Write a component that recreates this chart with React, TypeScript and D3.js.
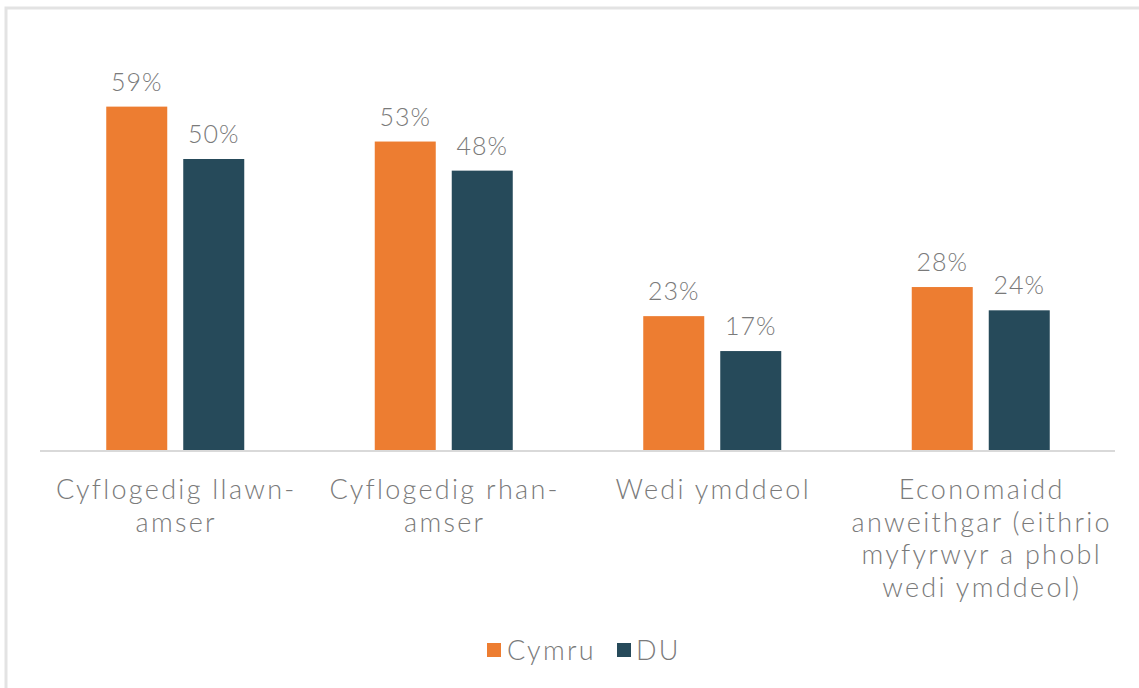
import { useEffect, useRef } from "react";
import * as d3 from "d3";

const categories = [
  "Cyflogedig llawn-amser",
  "Cyflogedig rhan-amser",
  "Wedi ymddeol",
  "Economaidd anweithgar (eithrio myfyrwyr a phobl wedi ymddeol)",
];
// label lines as they wrap in the picture
const categoryLines = [
  ["Cyflogedig llawn-", "amser"],
  ["Cyflogedig rhan-", "amser"],
  ["Wedi ymddeol"],
  ["Economaidd", "anweithgar (eithrio", "myfyrwyr a phobl", "wedi ymddeol)"],
];
const seriesNames = ["Cymru", "DU"];
const cymru = [59, 53, 23, 28];
const du = [50, 48, 17, 24];
const colors = ["#ED7D31", "#264A5A"];

const W = 1139;
const H = 688;

const App = () => {
  const svgRef = useRef<SVGSVGElement>(null);

  useEffect(() => {
    const svg = d3.select(svgRef.current);
    svg.selectAll("*").remove();

    const font = "Lato, 'Open Sans', sans-serif";
    const textColor = "#7a7a7a";

    // frame
    svg
      .append("rect")
      .attr("x", 6)
      .attr("y", 8)
      .attr("width", W + 20)
      .attr("height", H + 20)
      .attr("fill", "#fff")
      .attr("stroke", "#e3e3e3")
      .attr("stroke-width", 3);

    const baseY = 450;
    const x0 = d3.scaleBand<number>().domain(d3.range(categories.length)).range([41, 1115]).padding(0);
    const y = d3.scaleLinear().domain([0, 70]).range([baseY, baseY - 70 * 5.82]);

    const barW = 61;
    const gap = 16;
    const x1 = d3
      .scaleOrdinal<number, number>()
      .domain([0, 1])
      .range([-(barW + gap / 2), gap / 2]);

    const series = [cymru, du];
    const g = svg.append("g");

    series.forEach((vals, si) => {
      g.selectAll(`.bar${si}`)
        .data(vals)
        .join("rect")
        .attr("x", (_, i) => x0(i)! + x0.bandwidth() / 2 + x1(si))
        .attr("y", (d) => y(d))
        .attr("width", barW)
        .attr("height", (d) => baseY - y(d))
        .attr("fill", colors[si]);

      g.selectAll(`.lab${si}`)
        .data(vals)
        .join("text")
        .attr("x", (_, i) => x0(i)! + x0.bandwidth() / 2 + x1(si) + barW / 2)
        .attr("y", (d) => y(d) - 16)
        .attr("text-anchor", "middle")
        .attr("font-family", font)
        .attr("font-weight", 300)
        .attr("font-size", 25)
        .attr("letter-spacing", 1)
        .attr("fill", textColor)
        .text((d) => `${d}%`);
    });

    // axis line
    svg
      .append("line")
      .attr("x1", 40)
      .attr("x2", 1115)
      .attr("y1", baseY + 1)
      .attr("y2", baseY + 1)
      .attr("stroke", "#d9d9d9")
      .attr("stroke-width", 2);

    // category labels
    categoryLines.forEach((lines, i) => {
      const t = svg
        .append("text")
        .attr("text-anchor", "middle")
        .attr("font-family", font)
        .attr("font-weight", 300)
        .attr("font-size", 27)
        .attr("letter-spacing", 2.3)
        .attr("fill", textColor);
      lines.forEach((ln, li) => {
        t.append("tspan")
          .attr("x", x0(i)! + x0.bandwidth() / 2 + 1)
          .attr("y", 499 + li * 32.5)
          .text(ln);
      });
    });

    // legend
    const legend = svg.append("g");
    const items = [
      { name: seriesNames[0], x: 487, tx: 507 },
      { name: seriesNames[1], x: 617, tx: 636 },
    ];
    items.forEach((it, i) => {
      legend
        .append("rect")
        .attr("x", it.x)
        .attr("y", 643)
        .attr("width", 14)
        .attr("height", 14)
        .attr("fill", colors[i]);
      legend
        .append("text")
        .attr("x", it.tx)
        .attr("y", 660)
        .attr("font-family", font)
        .attr("font-weight", 300)
        .attr("font-size", 27)
        .attr("letter-spacing", 2.3)
        .attr("fill", textColor)
        .text(it.name);
    });
  }, []);

  return (
    <svg
      ref={svgRef}
      width={W}
      height={H}
      style={{ position: "absolute", left: 0, top: 0, background: "#fff" }}
    ></svg>
  );
};

export default App;
